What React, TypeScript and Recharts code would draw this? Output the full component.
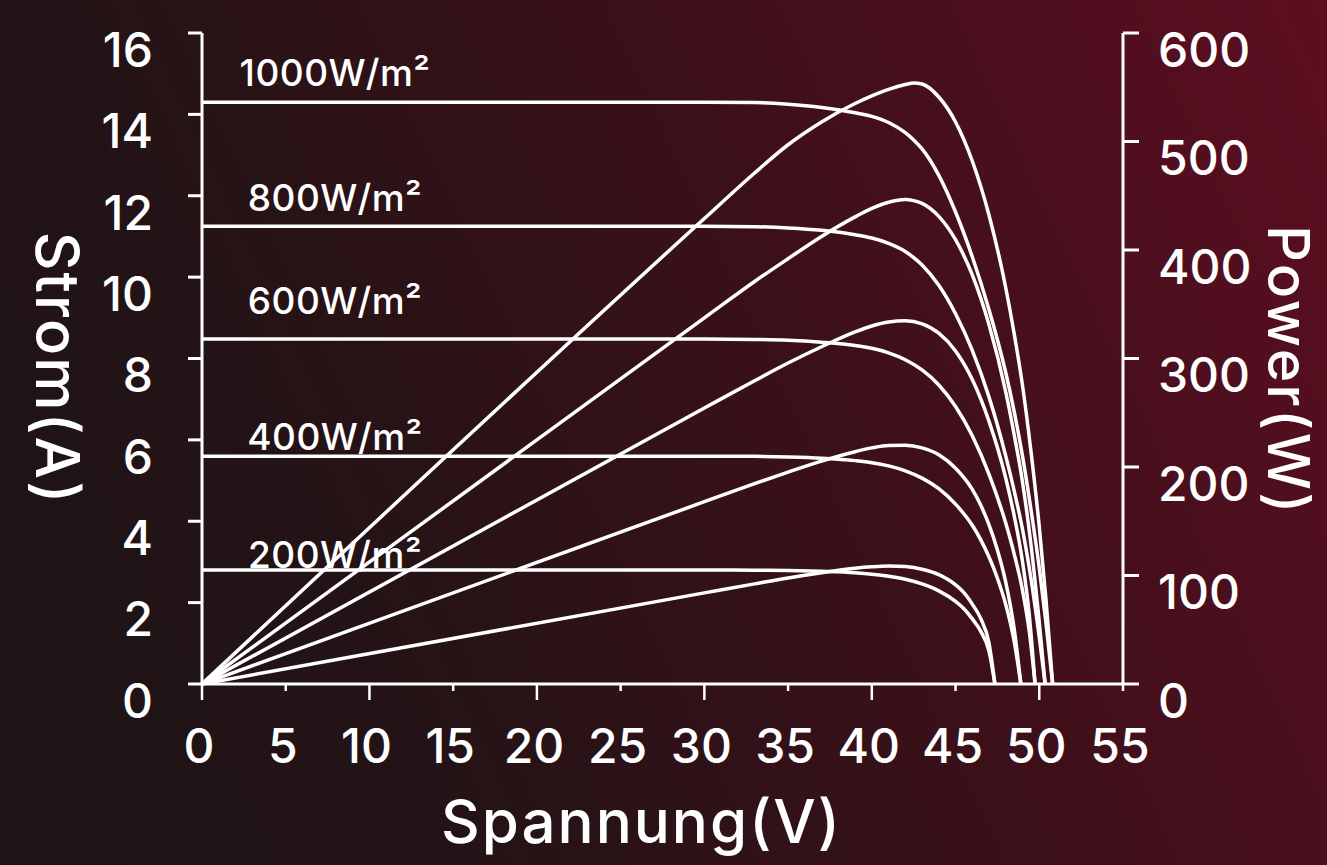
import React from 'react';
import { LineChart, Line, XAxis, YAxis, Label, LabelList } from 'recharts';

const irradiance = ['1000W/m²', '800W/m²', '600W/m²', '400W/m²', '200W/m²'];
const voltageTicks = [0, 5, 10, 15, 20, 25, 30, 35, 40, 45, 50, 55];
const currentTicks = [0, 2, 4, 6, 8, 10, 12, 14, 16];
const powerTicks = [0, 100, 200, 300, 400, 500, 600];

// 1000 W/m²
const v1000 = [0, 30, 33, 35, 37, 39, 40, 41, 42, 42.5, 43, 44, 45, 46, 47, 48, 48.5, 49, 49.5, 50, 50.4, 50.8];
const i1000 = [14.3, 14.3, 14.29, 14.25, 14.17, 14.04, 13.95, 13.8, 13.55, 13.37, 13.15, 12.5, 11.6, 10.5, 9.2, 7.65, 6.7, 5.6, 4.3, 2.85, 1.5, 0];
const p1000 = [0, 429, 471, 497, 518, 535, 542, 548, 552.5, 554, 553, 541, 518, 482, 432, 365, 323, 275, 215, 145, 78, 0];

// 800 W/m²
const v800 = [0, 30, 33, 35, 37, 39, 40, 41, 42, 42.5, 43, 44, 45, 46, 47, 48, 48.5, 49, 49.5, 50, 50.35];
const i800 = [11.25, 11.25, 11.24, 11.21, 11.15, 11.04, 10.96, 10.83, 10.63, 10.48, 10.3, 9.8, 9.1, 8.2, 7.05, 5.6, 4.75, 3.8, 2.6, 1.15, 0];
const p800 = [0, 337.5, 371, 392, 412.5, 430.5, 438.4, 444, 446.5, 445.5, 443, 431, 409.5, 377, 331, 269, 230, 186, 129, 57, 0];

// 600 W/m²
const v600 = [0, 30, 33, 35, 37, 39, 40, 41, 42, 43, 44, 45, 46, 47, 48, 48.5, 49, 49.4, 49.75];
const i600 = [8.48, 8.48, 8.47, 8.45, 8.4, 8.32, 8.25, 8.14, 7.97, 7.72, 7.35, 6.82, 6.1, 5.15, 3.95, 3.2, 2.3, 1.3, 0];
const p600 = [0, 254.4, 279.5, 295.8, 310.8, 324.5, 330, 333.7, 334.7, 332, 323.4, 307, 280.6, 242, 189.6, 155.2, 112.7, 64.2, 0];

// 400 W/m²
const v400 = [0, 30, 33, 35, 37, 39, 40, 41, 42, 43, 44, 45, 46, 46.5, 47, 47.5, 48, 48.5, 48.9];
const i400 = [5.6, 5.6, 5.595, 5.58, 5.55, 5.49, 5.44, 5.36, 5.24, 5.06, 4.8, 4.42, 3.9, 3.55, 3.12, 2.6, 1.95, 1.05, 0];
const p400 = [0, 168, 184.6, 195.3, 205.4, 214.1, 217.6, 219.8, 220, 217.6, 211.2, 198.9, 179.4, 165, 146.6, 123.5, 93.6, 50.9, 0];

// 200 W/m²
const v200 = [0, 30, 33, 35, 37, 39, 40, 41, 42, 43, 44, 45, 45.5, 46, 46.5, 47, 47.35];
const i200 = [2.8, 2.8, 2.797, 2.79, 2.77, 2.735, 2.7, 2.65, 2.575, 2.46, 2.29, 2.03, 1.85, 1.6, 1.3, 0.8, 0];
const p200 = [0, 84, 92.3, 97.7, 102.5, 106.7, 108, 108.7, 108.2, 105.8, 100.8, 91.4, 84.2, 73.6, 60.5, 37.6, 0];

const volts = [v1000, v800, v600, v400, v200];
const amps = [i1000, i800, i600, i400, i200];
const watts = [p1000, p800, p600, p400, p200];

const ivSeries = volts.map((vs, k) => vs.map((v, j) => ({ v, i: amps[k][j] })));
const pvSeries = volts.map((vs, k) => vs.map((v, j) => ({ v, p: watts[k][j] })));

// how far above its flat line each irradiance label sits
const labelLift = [16, 15, 25, 6, 2];

const FONT = 'Inter, "Open Sans", sans-serif';
const WHITE = '#ffffff';

function XTick(props: any) {
  const { x, y, payload } = props;
  const long = payload.value % 10 === 0;
  return (
    <g>
      <line x1={x} x2={x} y1={y} y2={y + (long ? 16 : 7)} stroke={WHITE} strokeWidth={2.5} />
      <text x={x - 3} y={y + 62} dy="0.35em" textAnchor="middle" fill={WHITE} fontSize={48} fontWeight={500} fontFamily={FONT}>
        {payload.value}
      </text>
    </g>
  );
}

function LeftTick(props: any) {
  const { x, y, payload } = props;
  return (
    <text x={x} y={y + 17} dy="0.35em" textAnchor="end" fill={WHITE} fontSize={48} fontWeight={500} fontFamily={FONT}>
      {payload.value}
    </text>
  );
}

function RightTick(props: any) {
  const { x, y, payload } = props;
  return (
    <text x={x} y={y + 17} dy="0.35em" textAnchor="start" fill={WHITE} fontSize={48} fontWeight={500} fontFamily={FONT}>
      {payload.value}
    </text>
  );
}

const irrLabel = (k: number) => (props: any) => {
  if (props.index !== 0) return null;
  return (
    <text x={props.x + 133} y={props.y - labelLift[k]} textAnchor="middle" fill={WHITE} fontSize={37} fontWeight={500} letterSpacing={0.5} fontFamily={FONT}>
      {irradiance[k]}
    </text>
  );
};

const stromTitle = (props: any) => {
  const { viewBox } = props;
  const cx = viewBox.x + 57;
  const cy = viewBox.y + viewBox.height / 2 + 10;
  return (
    <text x={cx} y={cy} transform={`rotate(90 ${cx} ${cy})`} textAnchor="middle" dy="0.35em" fill={WHITE} fontSize={60} fontWeight={500} letterSpacing={2} fontFamily={FONT}>
      Strom(A)
    </text>
  );
};

const powerTitle = (props: any) => {
  const { viewBox } = props;
  const cx = viewBox.x + 165;
  const cy = viewBox.y + viewBox.height / 2 + 12;
  return (
    <text x={cx} y={cy} transform={`rotate(90 ${cx} ${cy})`} textAnchor="middle" dy="0.35em" fill={WHITE} fontSize={57} fontWeight={500} letterSpacing={2.5} fontFamily={FONT}>
      Power(W)
    </text>
  );
};

const voltTitle = (props: any) => {
  const { viewBox } = props;
  return (
    <text x={viewBox.x + viewBox.width / 2 - 21} y={viewBox.y + 159} textAnchor="middle" fill={WHITE} fontSize={60} fontWeight={500} letterSpacing={2} fontFamily={FONT}>
      Spannung(V)
    </text>
  );
};

export default function App() {
  return (
    <div
      style={{
        position: 'absolute',
        left: 0,
        top: 0,
        width: 1327,
        height: 865,
        background: 'linear-gradient(65deg, #1c1416 0%, #251316 30%, #3b1019 60%, #5d0e21 100%)',
      }}
    >
      <LineChart width={1327} height={865} margin={{ top: 33, right: 0, bottom: 0, left: 0 }}>
        <XAxis
          type="number"
          dataKey="v"
          domain={[0, 55]}
          ticks={voltageTicks}
          height={181}
          stroke={WHITE}
          strokeWidth={3}
          tickLine={false}
          tickSize={0}
          tickMargin={0}
          tick={<XTick />}
          allowDataOverflow
        >
          <Label content={voltTitle} />
        </XAxis>
        <YAxis
          yAxisId="i"
          orientation="left"
          width={202}
          domain={[0, 16]}
          ticks={currentTicks}
          stroke={WHITE}
          strokeWidth={3}
          tickSize={14}
          tickMargin={35}
          tick={<LeftTick />}
        >
          <Label content={stromTitle} />
        </YAxis>
        <YAxis
          yAxisId="p"
          orientation="right"
          width={204}
          domain={[0, 600]}
          ticks={powerTicks}
          stroke={WHITE}
          strokeWidth={3}
          tickSize={16}
          tickMargin={19}
          tick={<RightTick />}
        >
          <Label content={powerTitle} />
        </YAxis>
        {ivSeries.map((d, k) => (
          <Line
            key={'iv' + k}
            data={d}
            yAxisId="i"
            dataKey="i"
            type="monotone"
            stroke={WHITE}
            strokeWidth={3.5}
            dot={false}
            activeDot={false}
            isAnimationActive={false}
          >
            <LabelList dataKey="i" content={irrLabel(k)} />
          </Line>
        ))}
        {pvSeries.map((d, k) => (
          <Line
            key={'pv' + k}
            data={d}
            yAxisId="p"
            dataKey="p"
            type="monotone"
            stroke={WHITE}
            strokeWidth={3.5}
            dot={false}
            activeDot={false}
            isAnimationActive={false}
          />
        ))}
      </LineChart>
    </div>
  );
}
